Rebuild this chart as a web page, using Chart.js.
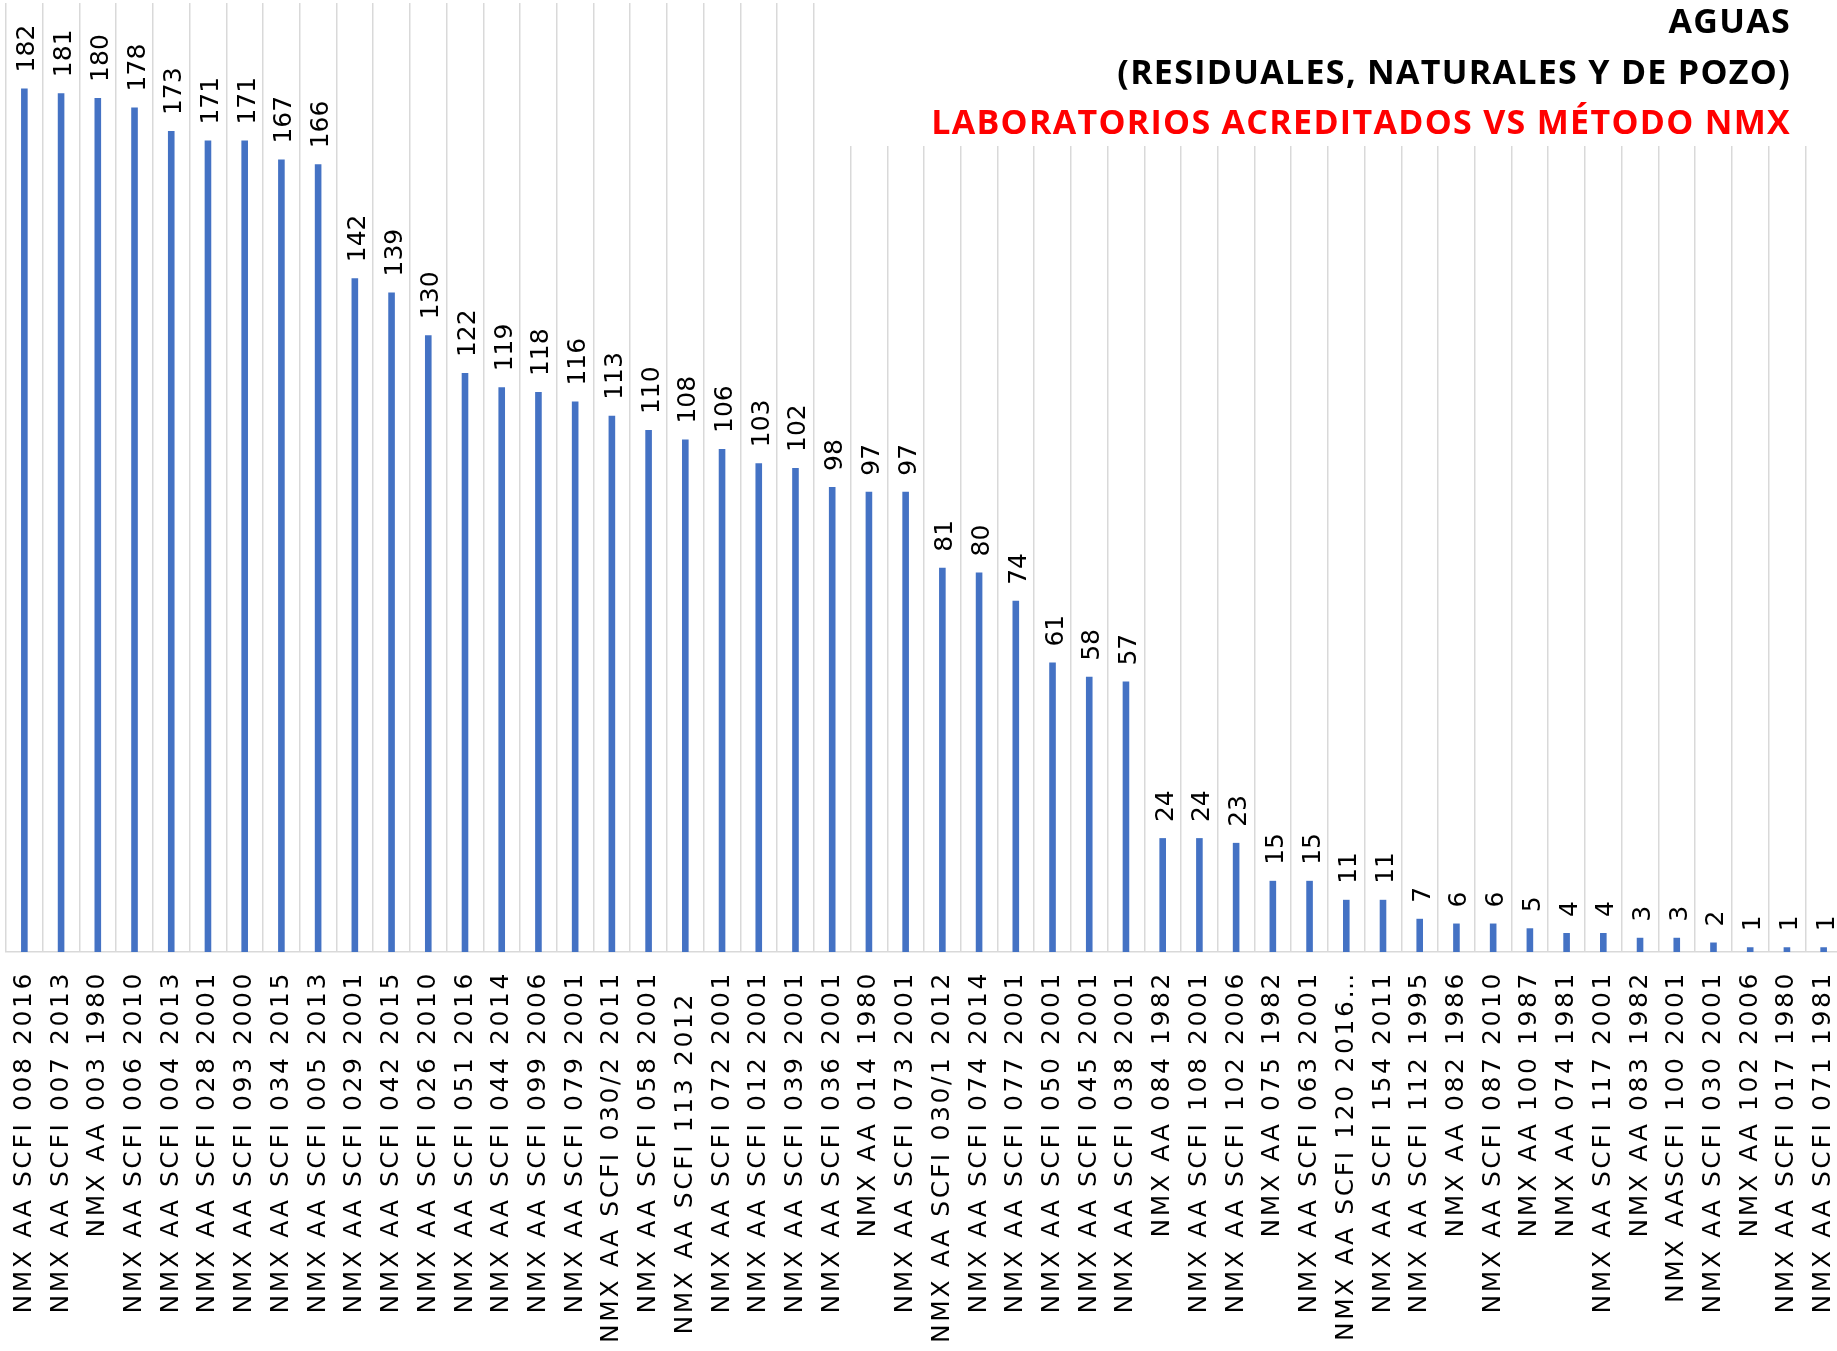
<!DOCTYPE html>
<html>
<head>
<meta charset="utf-8">
<script src="https://cdn.jsdelivr.net/npm/chart.js@4"></script>
<style>
  html, body { margin: 0; padding: 0; background: #ffffff; overflow: hidden; }
  #wrap { width: 1843px; height: 1351px; }
</style>
</head>
<body>
<div id="wrap"><canvas id="myChart" width="1843" height="1351"></canvas></div>
<script>
// Metodos NMX (eje x)
var metodos = [
    "NMX AA SCFI 008 2016", "NMX AA SCFI 007 2013", "NMX AA 003 1980", "NMX AA SCFI 006 2010",
    "NMX AA SCFI 004 2013", "NMX AA SCFI 028 2001", "NMX AA SCFI 093 2000", "NMX AA SCFI 034 2015",
    "NMX AA SCFI 005 2013", "NMX AA SCFI 029 2001", "NMX AA SCFI 042 2015", "NMX AA SCFI 026 2010",
    "NMX AA SCFI 051 2016", "NMX AA SCFI 044 2014", "NMX AA SCFI 099 2006", "NMX AA SCFI 079 2001",
    "NMX AA SCFI 030/2 2011", "NMX AA SCFI 058 2001", "NMX AA SCFI 113 2012  ", "NMX AA SCFI 072 2001",
    "NMX AA SCFI 012 2001", "NMX AA SCFI 039 2001", "NMX AA SCFI 036 2001", "NMX AA 014 1980",
    "NMX AA SCFI 073 2001", "NMX AA SCFI 030/1 2012", "NMX AA SCFI 074 2014", "NMX AA SCFI 077 2001",
    "NMX AA SCFI 050 2001", "NMX AA SCFI 045 2001", "NMX AA SCFI 038 2001", "NMX AA 084 1982",
    "NMX AA SCFI 108 2001", "NMX AA SCFI 102 2006", "NMX AA 075 1982", "NMX AA SCFI 063 2001",
    "NMX AA SCFI 120 2016…", "NMX AA SCFI 154 2011", "NMX AA SCFI 112 1995", "NMX AA 082 1986",
    "NMX AA SCFI 087 2010", "NMX AA 100 1987", "NMX AA 074 1981", "NMX AA SCFI 117 2001",
    "NMX AA 083 1982", "NMX AASCFI 100 2001", "NMX AA SCFI 030 2001", "NMX AA 102 2006",
    "NMX AA SCFI 017 1980", "NMX AA SCFI 071 1981"
];

// laboratorios acreditados por metodo
var laboratorios = [
    182, 181, 180, 178, 173, 171, 171, 167, 166, 142,
    139, 130, 122, 119, 118, 116, 113, 110, 108, 106,
    103, 102, 98, 97, 97, 81, 80, 74, 61, 58,
    57, 24, 24, 23, 15, 15, 11, 11, 7, 6,
    6, 5, 4, 4, 3, 3, 2, 1, 1, 1
];

var titulo = ["AGUAS", "(RESIDUALES, NATURALES Y DE POZO)", "LABORATORIOS ACREDITADOS VS MÉTODO NMX"];
var coloresTitulo = ["#000000", "#000000", "#FF0000"];

// espaciado de letras para las etiquetas del eje
var espaciado = {
    id: "espaciado",
    beforeDraw: function (chart) {
        chart.ctx.letterSpacing = "2.6px";
    }
};

// valores encima de cada barra, girados
var etiquetas = {
    id: "etiquetas",
    afterDatasetsDraw: function (chart) {
        var ctx = chart.ctx;
        var meta = chart.getDatasetMeta(0);
        ctx.save();
        ctx.letterSpacing = "0px";
        ctx.font = "25px 'DejaVu Sans'";
        ctx.fillStyle = "#000000";
        ctx.textAlign = "left";
        ctx.textBaseline = "alphabetic";
        meta.data.forEach(function (bar, i) {
            ctx.save();
            ctx.translate(bar.x + 10, bar.y - 16);
            ctx.rotate(-Math.PI / 2);
            ctx.fillText(String(laboratorios[i]), 0, 0);
            ctx.restore();
        });
        ctx.restore();
    }
};

// titulo arriba a la derecha, con fondo blanco
var tituloPlugin = {
    id: "tituloPlugin",
    afterDraw: function (chart) {
        var ctx = chart.ctx;
        var baselines = [33, 83.5, 134];
        ctx.save();
        ctx.fillStyle = "#ffffff";
        ctx.fillRect(830, 0, chart.width - 830, 146);
        ctx.font = "bold 34px 'Open Sans'";
        ctx.letterSpacing = "1.3px";
        ctx.textAlign = "right";
        ctx.textBaseline = "alphabetic";
        for (var i = 0; i < titulo.length; i++) {
            ctx.fillStyle = coloresTitulo[i];
            ctx.fillText(titulo[i], 1791, baselines[i]);
        }
        ctx.restore();
    }
};

var config = {
    type: "bar",
    data: {
        labels: metodos,
        datasets: [
            {
                data: laboratorios,
                backgroundColor: "#4472C4",
                barPercentage: 0.18,
                categoryPercentage: 1
            }
        ]
    },
    options: {
        responsive: false,
        animation: false,
        layout: { padding: { left: 6, right: 1, top: 3, bottom: 0 } },
        plugins: {
            legend: { display: false },
            tooltip: { enabled: false },
            title: { display: false }
        },
        scales: {
            x: {
                offset: true,
                grid: { display: true, offset: true, color: "#d9d9d9", lineWidth: 1.5, drawTicks: false },
                border: { display: true, color: "#d9d9d9", width: 1.5 },
                ticks: {
                    autoSkip: false,
                    minRotation: 90,
                    maxRotation: 90,
                    padding: 19,
                    color: "#000000",
                    font: { family: "'DejaVu Sans'", size: 25 }
                },
                afterFit: function (scale) {
                    scale.height = 399;
                    scale.paddingLeft = 0;
                    scale.paddingRight = 0;
                }
            },
            y: { display: false, min: 0, max: 200 }
        }
    },
    plugins: [espaciado, etiquetas, tituloPlugin]
};

var myChart = new Chart(document.getElementById("myChart"), config);
</script>
</body>
</html>
